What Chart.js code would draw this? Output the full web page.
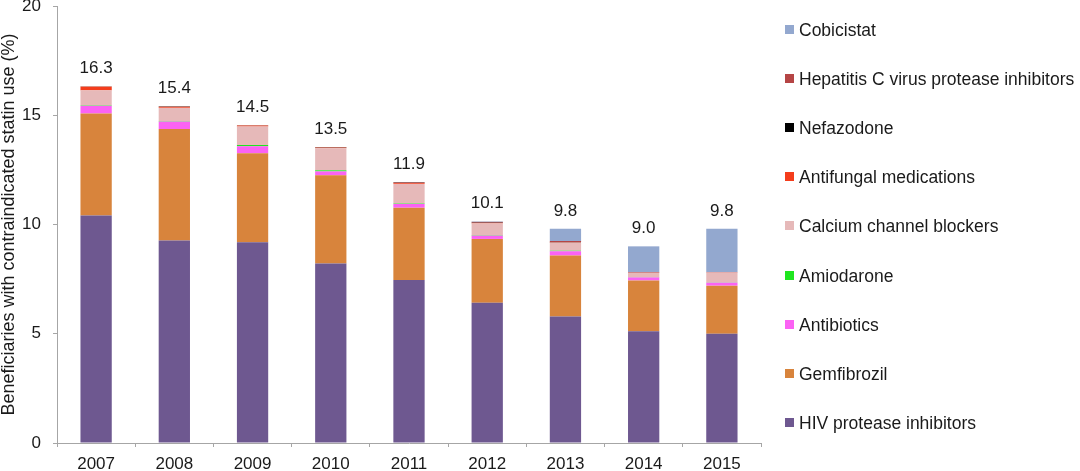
<!DOCTYPE html>
<html>
<head>
<meta charset="utf-8">
<script src="https://cdn.jsdelivr.net/npm/chart.js@4.4.1/dist/chart.umd.min.js"></script>
<style>
  html,body{margin:0;padding:0;background:#fff;}
  #wrap{position:relative;width:1080px;height:471px;font-family:"Liberation Sans",Arial,sans-serif;color:#1a1a1a;}
  #legend{position:absolute;left:785px;top:0;}
  .lg{position:absolute;left:0;white-space:nowrap;font-size:17.5px;line-height:20px;height:20px;}
  .lg i{position:absolute;left:0;top:5px;width:9px;height:9px;}
  .lg span{position:absolute;left:14px;top:0;}
</style>
</head>
<body>
<div id="wrap">
  <canvas id="c" width="1080" height="471"></canvas>
  <div id="legend"></div>
</div>
<script>
// years on the x axis
const years = ['2007','2008','2009','2010','2011','2012','2013','2014','2015'];

// % of beneficiaries, stacked bottom -> top
const hiv        = [10.41, 9.27, 9.19, 8.21, 7.46, 6.42, 5.79, 5.11, 5.00];
const gemfib     = [4.67, 5.10, 4.07, 4.04, 3.31, 2.92, 2.79, 2.33, 2.20];
const antibiot   = [0.35, 0.34, 0.32, 0.18, 0.17, 0.15, 0.20, 0.14, 0.14];
const amiodarone = [0.02, 0.02, 0.06, 0.05, 0.02, 0.02, 0.02, 0.01, 0.01];
const ccb        = [0.69, 0.61, 0.84, 1.01, 0.90, 0.54, 0.36, 0.19, 0.44];
const antifungal = [0.17, 0.05, 0.05, 0.03, 0.04, 0.02, 0.02, 0.01, 0.01];
const nefazodone = [0.01, 0.02, 0.01, 0.02, 0.01, 0.01, 0.01, 0.00, 0.00];
const hepc       = [0, 0, 0, 0, 0.03, 0.04, 0.05, 0.02, 0.01];
const cobicistat = [0, 0, 0, 0, 0, 0.02, 0.57, 1.19, 1.99];

// totals printed above the bars
const totalLabels = ['16.3','15.4','14.5','13.5','11.9','10.1','9.8','9.0','9.8'];

const yTicks = [0, 5, 10, 15, 20];

const series = [
  { name: 'HIV protease inhibitors', data: hiv, color: '#6e5890' },
  { name: 'Gemfibrozil', data: gemfib, color: '#d8843c' },
  { name: 'Antibiotics', data: antibiot, color: '#fb62f4' },
  { name: 'Amiodarone', data: amiodarone, color: '#1fe61f' },
  { name: 'Calcium channel blockers', data: ccb, color: '#e6b9b9' },
  { name: 'Antifungal medications', data: antifungal, color: '#f43d1c' },
  { name: 'Nefazodone', data: nefazodone, color: '#000000' },
  { name: 'Hepatitis C virus protease inhibitors', data: hepc, color: '#b54545' },
  { name: 'Cobicistat', data: cobicistat, color: '#93a8cf' }
];

const FONT = '"Liberation Sans", Arial, sans-serif';
const AXIS = '#a6a6a6';
const TXT = '#1a1a1a';

// total labels above each stack
const totalsPlugin = {
  id: 'totals',
  afterDatasetsDraw(chart){
    const ctx = chart.ctx, xs = chart.scales.x, ys = chart.scales.y;
    ctx.save();
    ctx.font = '17px ' + FONT; ctx.fillStyle = TXT;
    ctx.textAlign = 'center'; ctx.textBaseline = 'alphabetic';
    years.forEach((yr, i)=>{
      const sum = series.reduce((s, d)=>s + d.data[i], 0);
      ctx.fillText(totalLabels[i], xs.getPixelForValue(i), ys.getPixelForValue(sum) - 13);
    });
    ctx.restore();
  }
};

new Chart(document.getElementById('c').getContext('2d'), {
  type: 'bar',
  data: {
    labels: years,
    datasets: series.map(s=>({ label: s.name, data: s.data, backgroundColor: s.color, borderWidth: 0,
      barPercentage: 0.4, categoryPercentage: 1 }))
  },
  options: {
    responsive: false, animation: false, devicePixelRatio: 1,
    layout: { padding: { top: 6, right: 319, left: 0, bottom: 0 } },
    plugins: { legend: { display: false }, tooltip: { enabled: false } },
    scales: {
      x: {
        stacked: true,
        grid: { display: true, drawOnChartArea: false, drawTicks: true, tickLength: 4, color: AXIS, offset: true },
        border: { display: true, color: AXIS, width: 1 },
        ticks: { font: { family: FONT, size: 17 }, color: TXT, padding: 7, maxRotation: 0 },
        afterFit: (s)=>{ s.height = 28; s.paddingLeft = 0; s.paddingRight = 0; }
      },
      y: {
        stacked: true, min: 0, max: 20,
        afterBuildTicks: (s)=>{ s.ticks = yTicks.map(v=>({ value: v })); },
        grid: { display: true, drawOnChartArea: false, drawTicks: true, tickLength: 4, color: AXIS },
        border: { display: true, color: AXIS, width: 1 },
        ticks: { font: { family: FONT, size: 17 }, color: TXT, padding: 12 },
        title: { display: true, text: 'Beneficiaries with contraindicated statin use (%)',
          font: { family: FONT, size: 18, lineHeight: 1 }, color: TXT, padding: { top: 0, bottom: 0 } },
        // keep plot top at the 20 tick, like the original
        afterFit: (s)=>{ s.width = 57; s.paddingTop = 0; s.paddingBottom = 0; }
      }
    }
  },
  plugins: [totalsPlugin]
});

// legend, top item = top of stack
const elLegend = document.getElementById('legend');
[...series].reverse().forEach((s, i)=>{
  const row = document.createElement('div'); row.className = 'lg';
  row.style.top = (30 + i*49.1 - 10) + 'px';
  const box = document.createElement('i'); box.style.background = s.color;
  const t = document.createElement('span'); t.textContent = s.name;
  row.appendChild(box); row.appendChild(t);
  elLegend.appendChild(row);
});
</script>
</body>
</html>
